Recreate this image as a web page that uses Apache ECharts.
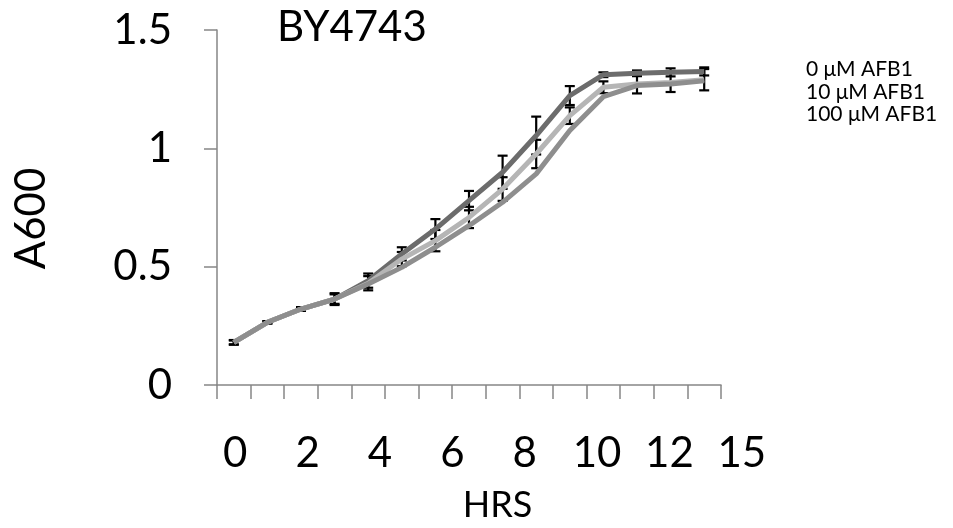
<!DOCTYPE html>
<html>
<head>
<meta charset="utf-8">
<title>BY4743</title>
<script src="https://cdn.jsdelivr.net/npm/echarts@6/dist/echarts.min.js"></script>
<style>
	html, body { margin: 0; padding: 0; background: #fff; }
	#growthChart { width: 953px; height: 528px; }
</style>
</head>
<body>
<div id="growthChart"></div>
<script>
var hours = ['0','1','2','3','4','5','6','7','8','9','10','11','12','13','15'];
var hourLabels = ['0','2','4','6','8','10','12','15'];
var yTicks = [0, 0.5, 1, 1.5];
var seriesNames = ['0 μM AFB1', '10 μM AFB1', '100 μM AFB1'];

var afb0 = [0.180, 0.265, 0.321, 0.363, 0.441, 0.554, 0.659, 0.779, 0.899, 1.054, 1.223, 1.311, 1.317, 1.321, 1.325];
var afb10 = [0.180, 0.265, 0.321, 0.363, 0.430, 0.532, 0.610, 0.708, 0.828, 0.976, 1.138, 1.258, 1.272, 1.278, 1.290];
var afb100 = [0.180, 0.265, 0.321, 0.363, 0.427, 0.497, 0.582, 0.673, 0.772, 0.892, 1.075, 1.218, 1.265, 1.272, 1.285];

var err0 = [0.010, 0.005, 0.008, 0.020, 0.030, 0.028, 0.042, 0.041, 0.070, 0.080, 0.040, 0.010, 0.012, 0.017, 0.017];
var err10 = [0.008, 0.005, 0.008, 0.025, 0.030, 0.030, 0.045, 0.045, 0.050, 0.060, 0.035, 0.025, 0.040, 0.040, 0.045];

var Page = function(){

	var font = 'Lato';

	// [x, low, high] for the custom error-bar series
	var errData = function(vals, errs){
		var out = [];
		for (var i = 0; i < vals.length; i++) {
			out.push([i, vals[i] - errs[i], vals[i] + errs[i]]);
		}
		return out;
	};

	var renderErr = function(params, api){
		var lo = api.coord([api.value(0), api.value(1)]);
		var hi = api.coord([api.value(0), api.value(2)]);
		var w = 5;
		var st = { stroke: '#000', lineWidth: 2.2 };
		return {
			type: 'group',
			children: [
				{ type: 'line', shape: { x1: hi[0], y1: hi[1], x2: lo[0], y2: lo[1] }, style: st },
				{ type: 'line', shape: { x1: hi[0] - w, y1: hi[1], x2: hi[0] + w, y2: hi[1] }, style: st },
				{ type: 'line', shape: { x1: lo[0] - w, y1: lo[1], x2: lo[0] + w, y2: lo[1] }, style: st }
			]
		};
	};

	var lineSeries = function(name, data, color){
		return {
			name: name,
			type: 'line',
			data: data,
			showSymbol: false,
			symbol: 'none',
			z: 3,
			lineStyle: { color: color, width: 5 },
			itemStyle: { color: color }
		};
	};

	var initGrowth = function(){
		var chart = echarts.init(document.getElementById('growthChart'));
		var option = {
			animation: false,
			textStyle: { fontFamily: font },
			title: {
				text: 'BY4743',
				left: 277,
				top: 6,
				padding: 0,
				textStyle: { fontFamily: font, fontSize: 42, fontWeight: 'normal', color: '#000' }
			},
			legend: {
				data: seriesNames,
				orient: 'vertical',
				left: 796,
				top: 54,
				icon: 'none',
				itemWidth: 0,
				itemHeight: 21,
				itemGap: 1.5,
				textStyle: { fontFamily: font, fontSize: 21, color: '#000' }
			},
			grid: [
				// plot area
				{ left: 217, right: 232, top: 30, bottom: 143, containLabel: false },
				// the hour labels sit wider apart than the ticks in the original
				{ left: 199, right: 175, top: 30, bottom: 143, containLabel: false }
			],
			xAxis: [{
				type: 'category',
				gridIndex: 0,
				data: hours,
				boundaryGap: true,
				axisLine: { lineStyle: { color: '#868686', width: 1.5 } },
				axisTick: { show: true, length: 14, interval: 0, lineStyle: { color: '#868686', width: 1.5 } },
				axisLabel: { show: false },
				splitLine: { show: false }
			}, {
				type: 'category',
				gridIndex: 1,
				data: hourLabels,
				boundaryGap: true,
				name: 'HRS',
				nameLocation: 'middle',
				nameGap: 104,
				nameTextStyle: { fontFamily: font, fontSize: 36, color: '#000', padding: [0, 0, 0, 18] },
				axisLine: { show: false },
				axisTick: { show: false },
				axisLabel: { interval: 0, margin: 49, fontFamily: font, fontSize: 42, color: '#000' },
				splitLine: { show: false }
			}],
			yAxis: [{
				type: 'value',
				gridIndex: 0,
				min: 0,
				max: 1.5,
				interval: 0.5,
				name: 'A600',
				nameLocation: 'middle',
				nameGap: 165,
				nameTextStyle: { fontFamily: font, fontSize: 42, color: '#000', padding: [0, 22, 0, 0] },
				axisLine: { show: true, lineStyle: { color: '#868686', width: 1.5 } },
				axisTick: { show: true, length: 13, lineStyle: { color: '#868686', width: 1.5 } },
				axisLabel: {
					margin: 45, fontFamily: font, fontSize: 42, color: '#000',
					formatter: function(v){
						return yTicks.indexOf(v) >= 0 ? String(v) : '';
					}
				},
				splitLine: { show: false }
			}, {
				type: 'value',
				gridIndex: 1,
				min: 0,
				max: 1.5,
				show: false
			}],
			series: [
				{
					type: 'custom',
					name: 'err0',
					renderItem: renderErr,
					data: errData(afb0, err0),
					encode: { x: 0, y: [1, 2] },
					z: 1,
					silent: true
				},
				{
					type: 'custom',
					name: 'err10',
					renderItem: renderErr,
					data: errData(afb10, err10),
					encode: { x: 0, y: [1, 2] },
					z: 1,
					silent: true
				},
				lineSeries(seriesNames[0], afb0, '#6c6c6c'),
				lineSeries(seriesNames[1], afb10, '#b5b5b5'),
				lineSeries(seriesNames[2], afb100, '#8e8e8e')
			]
		};
		chart.setOption(option);
	};

	return {
		init: function(){
			initGrowth();
		}
	};
}();

Page.init();
</script>
</body>
</html>
